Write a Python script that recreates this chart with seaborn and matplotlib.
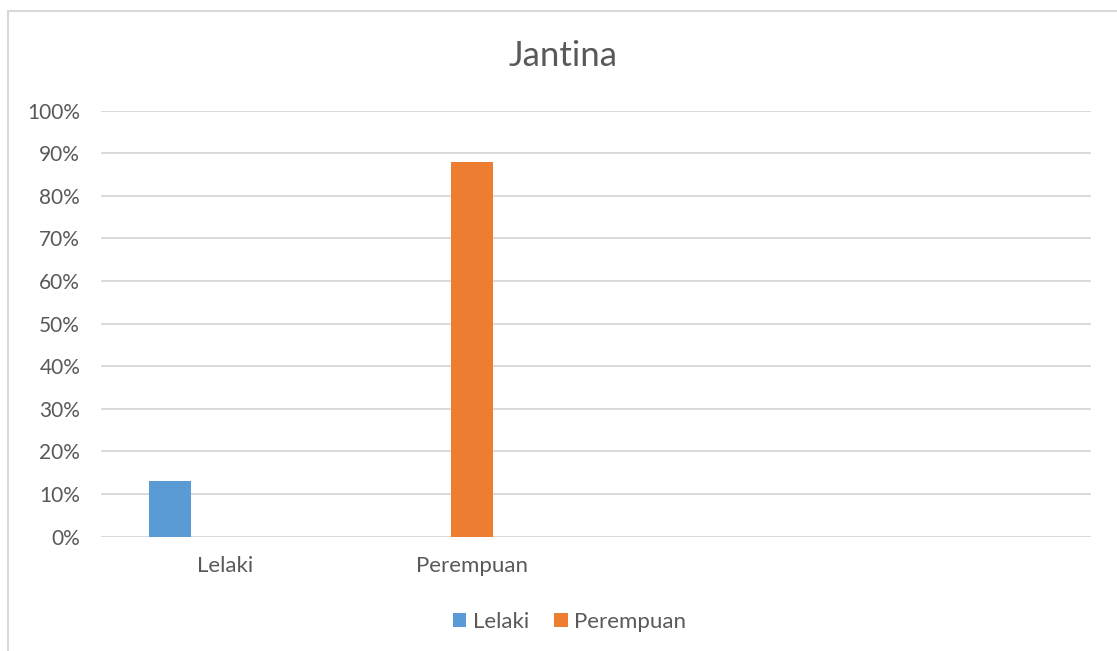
import pandas as pd
import seaborn as sns
import matplotlib.pyplot as plt
from matplotlib.patches import Rectangle, Patch
import matplotlib.ticker as ticker

# --- data ---
kategori = ["Lelaki", "Perempuan"]
siri = ["Lelaki", "Perempuan"]
nilai = [0.13, 0.88]
yticks = [0.0, 0.1, 0.2, 0.3, 0.4, 0.5, 0.6, 0.7, 0.8, 0.9, 1.0]

df = pd.DataFrame({"kategori": kategori, "siri": siri, "nilai": nilai})

# --- gaya ---
sns.set_theme(style="white")
plt.rcParams["font.family"] = ["Lato", "DejaVu Sans"]
warna_teks = "#595959"
warna_grid = "#d9d9d9"
palet = {"Lelaki": "#5B9BD5", "Perempuan": "#ED7D31", "_kosong": "#ffffff"}

W, H = 1117, 651
fig = plt.figure(figsize=(W / 100, H / 100), dpi=100)
ax = fig.add_axes([101 / W, (H - 536.7) / H, 990 / W, 426.2 / H])

# three slots per category (Excel-style cluster), third one empty
sns.barplot(
    data=df, x="kategori", y="nilai", hue="siri",
    order=kategori, hue_order=["Lelaki", "Perempuan", "_kosong"],
    palette=palet, dodge=True, width=0.668, gap=0.237, linewidth=0,
    saturation=1, legend=False, ax=ax,
)

ax.set_xlim(-0.5, 3.5)
ax.set_ylim(0, 1)
ax.set_yticks(yticks)
ax.yaxis.set_major_formatter(ticker.FuncFormatter(lambda v, p: f"{v:.0%}"))
ax.set_xlabel("")
ax.set_ylabel("")
ax.yaxis.grid(True, color=warna_grid, linewidth=1.4)
ax.set_axisbelow(True)
for s in ax.spines.values():
    s.set_visible(False)
ax.tick_params(axis="y", length=0, pad=15, labelsize=15, labelcolor=warna_teks)
ax.tick_params(axis="x", length=0, pad=14, labelsize=16, labelcolor=warna_teks)

# title
fig.text(563 / W, (H - 66) / H, "Jantina", ha="center", va="baseline",
         fontsize=25, color=warna_teks)

# legend
handles = [Patch(facecolor=palet[s], edgecolor="none") for s in siri]
fig.legend(handles, siri, loc="center", bbox_to_anchor=(569.5 / W, (H - 622) / H),
           ncol=2, frameon=False, fontsize=16, labelcolor=warna_teks,
           handlelength=0.62, handleheight=0.62, handletextpad=0.3,
           columnspacing=1.1)

# chart border
fig.add_artist(Rectangle((8 / W, -0.05), 1.2, (H - 11) / H + 0.05,
                         transform=fig.transFigure, fill=False,
                         edgecolor=warna_grid, linewidth=1.5))

fig.savefig("out.png", dpi=100)
